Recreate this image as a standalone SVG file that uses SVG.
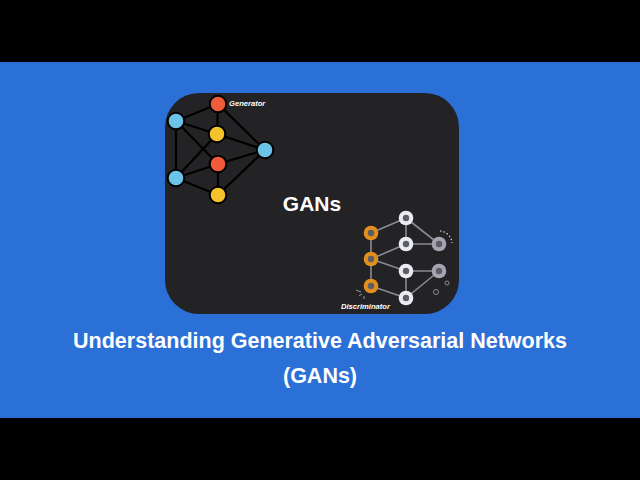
<svg xmlns="http://www.w3.org/2000/svg" width="640" height="480" viewBox="0 0 640 480">
<defs>
<style>
.g-edge{stroke:#000;stroke-width:2.2;stroke-linecap:round}
.d-edge{stroke:#8a8a92;stroke-width:1.6}
.gnode{stroke:#000;stroke-width:2}
.blue{fill:#6cc3e8}
.red{fill:#f15a3a}
.yellow{fill:#f4c22b}
.dot{fill:#5d5d66}
.lbl{font-family:"Liberation Sans",Arial,sans-serif;font-weight:bold;font-style:italic;font-size:7.6px;fill:#fff}
.title{font-family:"Liberation Sans",Arial,sans-serif;font-weight:bold;font-size:21.5px;fill:#fff;text-anchor:middle}
</style>
</defs>
<rect x="0" y="0" width="640" height="480" fill="#000"/>
<rect x="0" y="62" width="640" height="356" fill="#2b70d7"/>
<rect x="165" y="93" width="294" height="221" rx="34" ry="34" fill="#232326"/>

<g id="connectors">
<g id="gen-edges">
<line class="g-edge" x1="218" y1="104" x2="176" y2="121"/>
<line class="g-edge" x1="218" y1="104" x2="217" y2="134"/>
<line class="g-edge" x1="218" y1="104" x2="265" y2="150"/>
<line class="g-edge" x1="176" y1="121" x2="217" y2="134"/>
<line class="g-edge" x1="176" y1="121" x2="176" y2="178"/>
<line class="g-edge" x1="176" y1="121" x2="218" y2="164"/>
<line class="g-edge" x1="217" y1="134" x2="265" y2="150"/>
<line class="g-edge" x1="217" y1="134" x2="176" y2="178"/>
<line class="g-edge" x1="218" y1="164" x2="265" y2="150"/>
<line class="g-edge" x1="218" y1="164" x2="176" y2="178"/>
<line class="g-edge" x1="218" y1="164" x2="218" y2="195"/>
<line class="g-edge" x1="176" y1="178" x2="218" y2="195"/>
<line class="g-edge" x1="218" y1="195" x2="265" y2="150"/>
</g>
<g id="disc-edges">
<line class="d-edge" x1="371" y1="233" x2="406" y2="218"/>
<line class="d-edge" x1="371" y1="233" x2="371" y2="286"/>
<line class="d-edge" x1="371" y1="259" x2="406" y2="244"/>
<line class="d-edge" x1="371" y1="259" x2="406" y2="271"/>
<line class="d-edge" x1="371" y1="286" x2="406" y2="298"/>
<line class="d-edge" x1="406" y1="218" x2="406" y2="244"/>
<line class="d-edge" x1="406" y1="218" x2="439" y2="244"/>
<line class="d-edge" x1="406" y1="244" x2="439" y2="244"/>
<line class="d-edge" x1="406" y1="271" x2="439" y2="271"/>
<line class="d-edge" x1="406" y1="271" x2="406" y2="298"/>
<line class="d-edge" x1="406" y1="298" x2="439" y2="271"/>
</g>
</g>

<g id="generator">
<circle id="g-red1" class="gnode red" cx="218" cy="104" r="8.3"/>
<circle id="g-blue1" class="gnode blue" cx="176" cy="121" r="8.3"/>
<circle id="g-yellow1" class="gnode yellow" cx="217" cy="134" r="8.3"/>
<circle id="g-blue3" class="gnode blue" cx="265" cy="150" r="8.3"/>
<circle id="g-red2" class="gnode red" cx="218" cy="164" r="8.3"/>
<circle id="g-blue2" class="gnode blue" cx="176" cy="178" r="8.3"/>
<circle id="g-yellow2" class="gnode yellow" cx="218" cy="195" r="8.3"/>
<text class="lbl" x="229" y="106">Generator</text>
</g>

<g id="discriminator">
<g id="d-o1"><circle cx="371" cy="233" r="7.3" fill="#e28f1e"/><circle class="dot" cx="371" cy="233" r="3.2"/></g>
<g id="d-o2"><circle cx="371" cy="259" r="7.3" fill="#e28f1e"/><circle class="dot" cx="371" cy="259" r="3.2"/></g>
<g id="d-o3"><circle cx="371" cy="286" r="7.3" fill="#e28f1e"/><circle class="dot" cx="371" cy="286" r="3.2"/></g>
<g id="d-w1"><circle cx="406" cy="218" r="7.3" fill="#ebebf2"/><circle class="dot" cx="406" cy="218" r="3.2"/></g>
<g id="d-w2"><circle cx="406" cy="244" r="7.3" fill="#ebebf2"/><circle class="dot" cx="406" cy="244" r="3.2"/></g>
<g id="d-w3"><circle cx="406" cy="271" r="7.3" fill="#ebebf2"/><circle class="dot" cx="406" cy="271" r="3.2"/></g>
<g id="d-w4"><circle cx="406" cy="298" r="7.3" fill="#ebebf2"/><circle class="dot" cx="406" cy="298" r="3.2"/></g>
<g id="d-g1"><circle cx="439" cy="244" r="7.3" fill="#a4a4b2"/><circle class="dot" cx="439" cy="244" r="3.2"/></g>
<g id="d-g2"><circle cx="439" cy="271" r="7.3" fill="#a4a4b2"/><circle class="dot" cx="439" cy="271" r="3.2"/></g>
<path d="M440 231 A13 13 0 0 1 452 243" fill="none" stroke="#d8d8e0" stroke-width="1.2" stroke-dasharray="1.5 2"/>
<circle cx="447" cy="283" r="2" fill="none" stroke="#8a8a92" stroke-width="1"/>
<circle cx="436" cy="292" r="2.5" fill="none" stroke="#8a8a92" stroke-width="1"/>
<path d="M356 290 L361 292 M359 296 L362 294 M364 299 L364 296" stroke="#a0a0a8" stroke-width="0.9"/>
<text class="lbl" x="341" y="309">Discriminator</text>
</g>

<text x="312" y="211" font-family="Liberation Sans,Arial,sans-serif" font-weight="bold" font-size="21" fill="#fff" text-anchor="middle">GANs</text>
<text class="title" x="320" y="348">Understanding Generative Adversarial Networks</text>
<text class="title" x="320" y="383">(GANs)</text>
</svg>
